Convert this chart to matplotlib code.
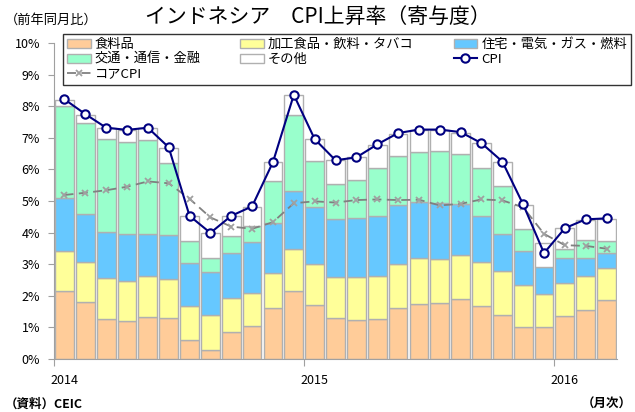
import numpy as np
import matplotlib.pyplot as plt

plt.rcParams['font.family'] = ['Noto Sans CJK JP', 'DejaVu Sans']

# monthly, Jan 2014 - Mar 2016 (contribution, %pt)
food = [2.15, 1.80, 1.27, 1.20, 1.34, 1.29, 0.59, 0.27, 0.87, 1.05, 1.62, 2.16,
        1.70, 1.30, 1.22, 1.28, 1.60, 1.75, 1.78, 1.90, 1.69, 1.40, 1.02, 1.01,
        1.37, 1.55, 1.86]
processed = [1.28, 1.26, 1.29, 1.28, 1.30, 1.24, 1.10, 1.13, 1.06, 1.03, 1.11, 1.32,
             1.32, 1.31, 1.36, 1.36, 1.40, 1.44, 1.37, 1.39, 1.38, 1.37, 1.32, 1.06,
             1.03, 1.08, 1.03]
housing = [1.68, 1.52, 1.47, 1.48, 1.32, 1.38, 1.36, 1.35, 1.42, 1.62, 1.56, 1.83,
           1.78, 1.83, 1.87, 1.88, 1.88, 1.78, 1.80, 1.61, 1.46, 1.20, 1.09, 0.83,
           0.79, 0.56, 0.46]
transport = [2.90, 2.90, 2.92, 2.92, 2.98, 2.30, 0.67, 0.44, 0.53, 0.51, 1.35, 2.40,
             1.45, 1.11, 1.23, 1.54, 1.53, 1.57, 1.63, 1.58, 1.53, 1.52, 0.69, -0.05,
             0.28, 0.57, 0.37]
other = [0.20, 0.25, 0.35, 0.36, 0.36, 0.47, 0.79, 0.79, 0.64, 0.61, 0.58, 0.65,
         0.70, 0.74, 0.70, 0.71, 0.72, 0.72, 0.68, 0.68, 0.76, 0.75, 0.76, 0.76,
         0.67, 0.64, 0.70]
cpi = [8.22, 7.75, 7.32, 7.25, 7.32, 6.70, 4.53, 3.99, 4.53, 4.83, 6.23, 8.36,
       6.96, 6.29, 6.38, 6.79, 7.15, 7.26, 7.26, 7.18, 6.83, 6.25, 4.89, 3.35,
       4.14, 4.42, 4.45]
core = [5.19, 5.26, 5.34, 5.45, 5.62, 5.56, 5.07, 4.48, 4.19, 4.12, 4.33, 4.93,
        4.99, 4.95, 5.03, 5.05, 5.03, 5.04, 4.86, 4.91, 5.05, 5.02, 4.80, 3.96,
        3.60, 3.58, 3.49]
year_labels = ['2014', '2015', '2016']

series = [
    ('食料品', food, '#FFCC99'),
    ('加工食品・飲料・タバコ', processed, '#FFFF99'),
    ('住宅・電気・ガス・燃料', housing, '#66C8FF'),
    ('交通・通信・金融', transport, '#99FFCC'),
    ('その他', other, '#FFFFFF'),
]

x = np.arange(len(cpi))
fig = plt.figure(figsize=(6.35, 4.12), dpi=100)
ax = fig.add_axes([54 / 635, 1 - 359 / 412, 563 / 635, 316 / 412])

pos_bottom = np.zeros(len(x))
neg_bottom = np.zeros(len(x))
handles = {}
for name, vals, col in series:
    v = np.array(vals)
    bottom = np.where(v >= 0, pos_bottom, neg_bottom)
    h = ax.bar(x, v, width=0.9, bottom=bottom, color=col, edgecolor='#B0B0B0',
               linewidth=1, label=name, zorder=2)
    handles[name] = h
    pos_bottom += np.where(v >= 0, v, 0)
    neg_bottom += np.where(v < 0, v, 0)

l_cpi, = ax.plot(x, cpi, color='#000080', lw=1.5, marker='o', ms=6,
                 mfc='white', mec='#000080', mew=1.5, zorder=4, label='CPI')
l_core, = ax.plot(x, core, color='#808080', lw=1.3, ls=(0, (5, 3)), marker='x',
                  ms=5, mec='#A0A0A0', mew=1.3, zorder=3, label='コアCPI')

ax.set_xlim(-0.5, len(x) - 0.5)
ax.set_ylim(0, 10)
ax.set_yticks(np.arange(0, 11, 1))
ax.set_yticklabels([f'{v}%' for v in range(11)], fontsize=9)
ax.tick_params(axis='y', direction='out', length=4, color='#A0A0A0', pad=6)

ax.set_xticks([-0.5, 11.5, 23.5])
ax.set_xticklabels([])
ax.set_xticks([0, 12, 24], minor=True)
ax.set_xticklabels(year_labels, minor=True, fontsize=9)
ax.tick_params(axis='x', which='major', direction='out', length=5, color='#A0A0A0')
ax.tick_params(axis='x', which='minor', length=0, pad=11)

for s in ['top', 'right']:
    ax.spines[s].set_visible(False)
for s in ['left', 'bottom']:
    ax.spines[s].set_color('#A0A0A0')

hs = [handles['食料品'], handles['交通・通信・金融'], l_core,
      handles['加工食品・飲料・タバコ'], handles['その他'],
      handles['住宅・電気・ガス・燃料'], l_cpi]
labels = ['食料品', '交通・通信・金融', 'コアCPI', '加工食品・飲料・タバコ', 'その他',
          '住宅・電気・ガス・燃料', 'CPI']
leg = fig.legend(hs, labels, ncol=3, loc='upper left',
                 bbox_to_anchor=(63 / 635, 1 - 87 / 412, 568 / 635, 53 / 412),
                 mode='expand', fontsize=9.5, frameon=True, fancybox=False,
                 edgecolor='black', borderpad=0.3, labelspacing=0.15,
                 handlelength=1.8, handletextpad=0.3, borderaxespad=0)
leg.get_frame().set_linewidth(1.0)
leg.set_zorder(5)

fig.text(0.5, 1 - 17 / 412, 'インドネシア　CPI上昇率（寄与度）', ha='center', va='center',
         fontsize=15)
fig.text(5 / 635, 1 - 20 / 412, '（前年同月比）', ha='left', va='center', fontsize=9.5)
fig.text(5 / 635, 1 - 404 / 412, '（資料）CEIC', ha='left', va='center', fontsize=9,
         fontweight='bold')
fig.text(632 / 635, 1 - 404 / 412, '（月次）', ha='right', va='center', fontsize=9,
         fontweight='bold')

fig.savefig('out.png', dpi=100)
